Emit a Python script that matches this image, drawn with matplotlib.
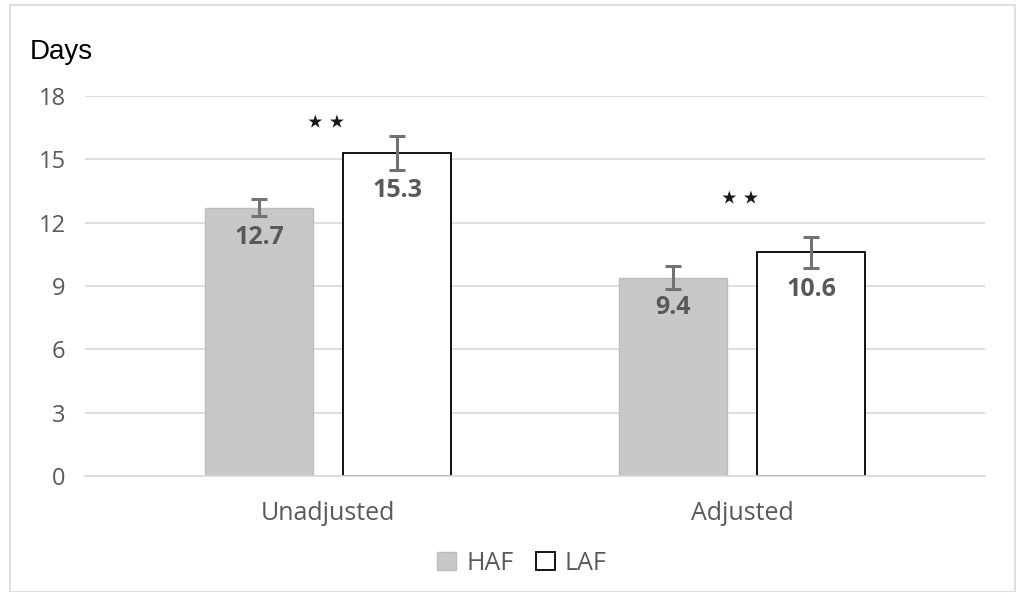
import matplotlib.pyplot as plt
from matplotlib.patches import Rectangle
import numpy as np

plt.rcParams['font.family'] = ['Open Sans', 'DejaVu Sans']

categories = ["Unadjusted", "Adjusted"]
haf_values = [12.7, 9.4]
laf_values = [15.3, 10.6]
haf_err = [0.4, 0.55]
laf_err = [0.8, 0.73]
star_heights = [16.7, 13.1]
y_ticks = [0, 3, 6, 9, 12, 15, 18]

fig = plt.figure(figsize=(10.19, 5.92), dpi=100)
ax = fig.add_axes([85 / 1019, 116 / 592, 900 / 1019, 380 / 592])

x = np.arange(len(categories))
w = 0.261
off = 0.1667

ax.bar(x - off, haf_values, w, color='#c8c8c8', edgecolor='#bdbdbd', linewidth=1, zorder=2, label='HAF')
ax.bar(x + off, laf_values, w, color='white', edgecolor='black', linewidth=1.3, zorder=2, label='LAF')
ax.errorbar(x - off, haf_values, yerr=haf_err, fmt='none', ecolor='#737373', elinewidth=2.2, capsize=6, capthick=2.2, zorder=3)
ax.errorbar(x + off, laf_values, yerr=laf_err, fmt='none', ecolor='#737373', elinewidth=2.2, capsize=6, capthick=2.2, zorder=3)

for xi, v in zip(x - off, haf_values):
    ax.text(xi, v - 1.42, f"{v}", ha='center', va='center', fontsize=18, fontweight='bold', color='#595959', zorder=4)
for xi, v in zip(x + off, laf_values):
    ax.text(xi, v - 1.77, f"{v}", ha='center', va='center', fontsize=18, fontweight='bold', color='#595959', zorder=4)

# significance marks
for xi, h in zip(x, star_heights):
    ax.text(xi - 0.005, h, "⋆⋆", ha='center', va='center', fontsize=26,
            color='#1a1a1a', family=['DejaVu Sans'])

ax.set_xlim(-0.587, 1.587)
ax.set_ylim(0, 18)
ax.set_yticks(y_ticks)
ax.set_xticks(x)
ax.set_xticklabels(categories)
ax.grid(axis='y', color='#d9d9d9', linewidth=1.2, zorder=0)
ax.set_axisbelow(True)
for s in ['top', 'right', 'left']:
    ax.spines[s].set_visible(False)
ax.spines['bottom'].set_color('#d9d9d9')
ax.spines['bottom'].set_linewidth(1.2)
ax.tick_params(axis='both', length=0, labelsize=17, labelcolor='#595959')
ax.tick_params(axis='x', labelsize=18, pad=18)
ax.tick_params(axis='y', pad=14)

fig.text(30 / 1019, 1 - 52 / 592, "Days", fontsize=20, color='black', va='center', ha='left',
         family=['Liberation Sans'])

leg = fig.legend(loc='center', bbox_to_anchor=(522 / 1019, 1 - 563 / 592), ncol=2, frameon=False,
                 fontsize=18, handlelength=0.75, handleheight=0.75, handletextpad=0.4, columnspacing=0.9)
for t in leg.get_texts():
    t.set_color('#595959')

fig.patches.append(Rectangle((10 / 1019, 0), 1005 / 1019, 1 - 5 / 592, transform=fig.transFigure,
                             fill=False, edgecolor='#d9d9d9', linewidth=1.2))

fig.savefig('out.png', dpi=100)
